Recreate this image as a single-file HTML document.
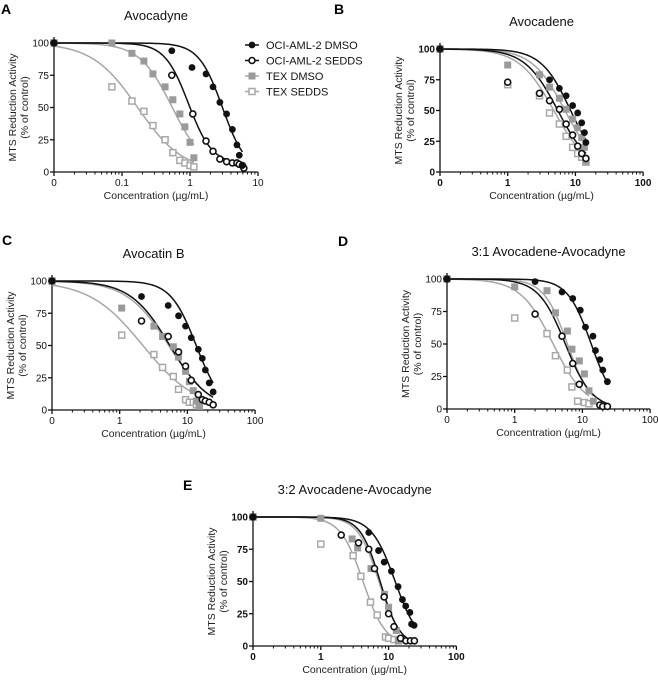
<!DOCTYPE html>
<html><head><meta charset="utf-8"><style>
html,body{margin:0;padding:0;background:#fff;}
svg{display:block;font-family:"Liberation Sans",Arial,sans-serif;}
</style></head><body>
<svg id="fig" width="658" height="680" viewBox="0 0 658 680"></svg>
<script>
// ---------- data ----------
const seriesNames = ["OCI-AML-2 DMSO","OCI-AML-2 SEDDS","TEX DMSO","TEX SEDDS"];
// Panel A: Avocadyne
const aConc = [
  [0,0.54,1.07,1.72,2.18,2.75,3.45,4.2,4.9,5.3,5.9],
  [0,0.54,1.1,1.72,2.18,2.75,3.45,4.2,4.9,5.3,5.9,6.2],
  [0,0.071,0.14,0.21,0.285,0.43,0.56,0.71,0.84,1.0,1.14],
  [0,0.071,0.14,0.21,0.285,0.43,0.56,0.71,0.84,1.0,1.14]];
const aResp = [
  [100,94,81,76,66,54,45,33,21,13,5],
  [100,75,45,24,16,10,8,7,7,6,5,3],
  [100,100,92,86,76,66,56,45,35,23,11],
  [100,66,55,47,36,25,15,9,7,5,4]];
const aIC50 = [3.0,0.95,0.55,0.17];
const aHill = [2.5,2.5,1.8,1.3];
const aBottom = [0,6,0,0];
// Panel B: Avocadene
const bConc = [
  [0,4.15,5.8,7.3,9.1,10.8,12.4,13.6,14.3],
  [0,1.0,2.95,4.15,5.8,7.3,9.1,10.8,12.4,14.3],
  [0,1.0,2.95,4.15,5.8,7.3,9.1,10.8,12.4,13.6,14.3],
  [0,1.0,2.95,4.15,5.8,7.3,9.1,10.8,12.4,14.3]];
const bResp = [
  [100,75,68,62,54,48,40,32,24],
  [100,73,64,58,51,39,30,21,15,11],
  [100,87,79,69,60,51,43,36,28,20,9],
  [100,71,62,48,39,29,20,15,12,8]];
const bIC50 = [8.5,5.5,7.0,4.8];
const bHill = [2.0,1.8,1.8,1.7];
const bBottom = [0,0,0,0];
// Panel C: Avocatin B
const cConc = [
  [0,2.1,5.2,7.4,9.4,11.4,14.5,16.6,18.4,21,24],
  [0,2.1,5.2,7.4,9.4,11.4,14.5,16.6,18.4,21,24],
  [0,1.07,3.2,4.3,6.2,7.4,9.4,10.7,12.2,13.6,15],
  [0,1.07,3.2,4.3,6.2,7.4,9.4,10.7,12.2,13.6,15]];
const cResp = [
  [100,88,81,73,65,56,47,40,31,21,14],
  [100,69,57,45,34,23,12,8,7,6,4],
  [100,79,65,57,49,41,30,22,15,7,3],
  [100,58,43,33,26,16,8,6,6,4,3]];
const cIC50 = [13.5,5.5,5.3,2.2];
const cHill = [2.3,1.5,1.4,1.1];
const cBottom = [0,0,0,0];
// Panel D: 3:1 Avocadene-Avocadyne
const dConc = [
  [0,2.0,5.0,7.2,9.3,11.1,14.3,15.6,18.1,20.0,23.4],
  [0,2.0,5.0,7.2,9.0,18.1,20.0,23.4],
  [0,1.0,3.0,4.0,6.0,7.0,9.0,10.7,12.5,14.5],
  [0,1.0,3.0,4.0,6.0,7.0,8.5,10.7,12.5]];
const dResp = [
  [100,98,90,85,76,63,56,45,38,30,21],
  [100,73,56,35,19,3,2,2],
  [100,94,91,74,60,46,37,27,14,6],
  [100,70,58,41,30,17,6,5,4]];
const dIC50 = [13.5,5.6,6.0,3.7];
const dHill = [2.5,2.2,2.5,1.8];
const dBottom = [0,0,0,0];
// Panel E: 3:2 Avocadene-Avocadyne
const eConc = [
  [0,5.1,7.1,8.6,11.0,13.8,16.0,17.9,20.6,21.8,23.8],
  [0,2.0,3.6,5.1,6.2,8.6,10.0,12.0,15.0,18.0,21.0,24.0],
  [0,1.0,2.9,3.5,5.5,8.7,10.0,13.0,14.0],
  [0,1.0,3.0,3.9,5.4,6.8,9.0,10.0,12.0,14.0]];
const eResp = [
  [100,88,74,65,58,46,36,31,26,17,16],
  [100,86,80,75,60,38,25,15,6,4,4,4],
  [100,99,83,76,60,40,30,12,4],
  [100,79,70,54,34,24,7,6,5,4]];
const eIC50 = [12.5,7.5,7.2,4.2];
const eHill = [2.5,3.0,2.8,2.6];
const eBottom = [0,0,0,0];
const yTicks = [0,25,50,75,100];

// ---------- layout ----------
const panels = [
  {id:"a",letter:"A",lx:1,ly:14,title:"Avocadyne",x0:54,dec:68,first:0.1,yt:43,yb:172,labels:["0","0.1","1","10"],conc:aConc,resp:aResp,ic:aIC50,hill:aHill,bot:aBottom},
  {id:"b",letter:"B",lx:334,ly:14,title:"Avocadene",x0:440,dec:67.7,first:1,yt:49,yb:172,labels:["0","1","10","100"],conc:bConc,resp:bResp,ic:bIC50,hill:bHill,bot:bBottom,bold:true},
  {id:"c",letter:"C",lx:2,ly:245,title:"Avocatin B",x0:52,dec:67.7,first:1,yt:281,yb:410,labels:["0","1","10","100"],conc:cConc,resp:cResp,ic:cIC50,hill:cHill,bot:cBottom},
  {id:"d",letter:"D",lx:338,ly:246,title:"3:1 Avocadene-Avocadyne",x0:447,dec:67.7,first:1,yt:279,yb:409,labels:["0","1","10","100"],conc:dConc,resp:dResp,ic:dIC50,hill:dHill,bot:dBottom},
  {id:"e",letter:"E",lx:183,ly:490,title:"3:2 Avocadene-Avocadyne",x0:253,dec:67.8,first:1,yt:517,yb:646,labels:["0","1","10","100"],conc:eConc,resp:eResp,ic:eIC50,hill:eHill,bot:eBottom,bold:true}
];
const styles = [
  {col:"#111",shape:"circle",fill:true},
  {col:"#111",shape:"circle",fill:false},
  {col:"#9a9a9a",shape:"square",fill:true},
  {col:"#a8a8a8",shape:"square",fill:false}];
const curveCols = ["#111","#111","#a6a6a6","#a6a6a6"];

const NS="http://www.w3.org/2000/svg";
const svg=document.getElementById("fig");
function mk(tag,attrs,parent){const e=document.createElementNS(NS,tag);for(const k in attrs)e.setAttribute(k,attrs[k]);(parent||svg).appendChild(e);return e;}
function txt(s,attrs,parent){const e=mk("text",attrs,parent);e.textContent=s;return e;}

function marker(g,x,y,st){
  let m;
  if(st.shape==="circle"){
    m=st.fill?mk("circle",{cx:x,cy:y,r:3.4,fill:st.col},g):mk("circle",{cx:x,cy:y,r:3,fill:"#fff",stroke:st.col,"stroke-width":1.6},g);
  }else{
    m=st.fill?mk("rect",{x:x-3.5,y:y-3.5,width:7,height:7,fill:st.col},g):mk("rect",{x:x-3,y:y-3,width:6,height:6,fill:"#fff",stroke:st.col,"stroke-width":1.5},g);
  }
  return m;
}

panels.forEach(p=>{
  const xs=v=> v===0? p.x0 : p.x0+(Math.log10(v)-Math.log10(p.first)+1)*p.dec;
  const ys=v=> p.yb - v/100*(p.yb-p.yt);
  const g=mk("g",{});
  
  
  const L=txt(p.letter,{x:p.lx,y:p.ly,"font-size":14,"font-weight":"bold",fill:"#000"},g);
  
  
  const T=txt(p.title,{x:p.x0+1.5*p.dec,y:p.yt-23,"font-size":13,"text-anchor":"middle",fill:"#111"},g);
  
  
  // axes
  const ax=mk("g",{stroke:"#111","stroke-width":1.3},g);
  
  
  mk("line",{x1:p.x0,y1:p.yb,x2:p.x0,y2:p.yt-6},ax);
  const xEnd=p.x0+3*p.dec;
  mk("line",{x1:p.x0,y1:p.yb,x2:xEnd,y2:p.yb},ax);
  yTicks.forEach(t=>{
    mk("line",{x1:p.x0-4,y1:ys(t),x2:p.x0,y2:ys(t)},ax);
    const tl=txt(String(t),{x:p.x0-5,y:ys(t)+3.5,"font-size":10,"text-anchor":"end",fill:"#111",stroke:"none","font-weight":p.bold?"bold":"normal"},g);
    
    
  });
  for(let d=0;d<=3;d++){
    const px=p.x0+d*p.dec;
    mk("line",{x1:px,y1:p.yb,x2:px,y2:p.yb+4},ax);
    const tl=txt(p.labels[d],{x:px,y:p.yb+14,"font-size":10,"text-anchor":"middle",fill:"#111",stroke:"none","font-weight":p.bold?"bold":"normal"},g);
    
    
    if(d<3){for(let k=2;k<=9;k++){const mx=px+Math.log10(k)*p.dec;mk("line",{x1:mx,y1:p.yb,x2:mx,y2:p.yb+2.5,"stroke-width":1},ax);}}
  }
  const xt=txt("Concentration  (µg/mL)",{x:p.x0+1.5*p.dec,y:p.yb+27,"font-size":10.5,"text-anchor":"middle",fill:"#222"},g);
  
  
  const cy=(p.yt+p.yb)/2;
  const yt1=txt("MTS Reduction Activity",{x:0,y:0,"font-size":10.5,"text-anchor":"middle",fill:"#222",transform:`translate(${p.x0-38},${cy}) rotate(-90)`},g);
  
  
  const yt2=txt("(% of control)",{x:0,y:0,"font-size":10.5,"text-anchor":"middle",fill:"#222",transform:`translate(${p.x0-26},${cy}) rotate(-90)`},g);
  
  
  // curves & points (gray drawn first)
  [3,2,1,0].forEach(s=>{
    const conc=p.conc[s], resp=p.resp[s];
    const xmax=Math.max(...conc);
    const lo=Math.log10(p.first/10), hi=Math.log10(xmax);
    let d="";
    for(let i=0;i<=80;i++){
      const lv=lo+(hi-lo)*i/80, v=Math.pow(10,lv);
      const y=p.bot[s]+(100-p.bot[s])/(1+Math.pow(v/p.ic[s],p.hill[s]));
      d+=(i?"L":"M")+xs(v).toFixed(2)+" "+ys(y).toFixed(2);
    }
    const c=mk("path",{d:d,fill:"none",stroke:curveCols[s],"stroke-width":1.5},g);
    
    
  });
  [3,2,1,0].forEach(s=>{
    const sg=mk("g",{},g);
    
    
    p.conc[s].forEach((v,i)=>{
      const m=marker(sg,xs(v),ys(p.resp[s][i]),styles[s]);
      
      
    });
  });
});

// legend
const lg=mk("g",{});


seriesNames.forEach((n,i)=>{
  const y=45+i*15.5;
  const eg=mk("g",{},lg);
  
  
  mk("line",{x1:245,y1:y,x2:259,y2:y,stroke:curveCols[i],"stroke-width":1.5},eg);
  marker(eg,252,y,styles[i]);
  txt(n,{x:266,y:y+4,"font-size":11,fill:"#111"},eg);
});
</script>
</body></html>
